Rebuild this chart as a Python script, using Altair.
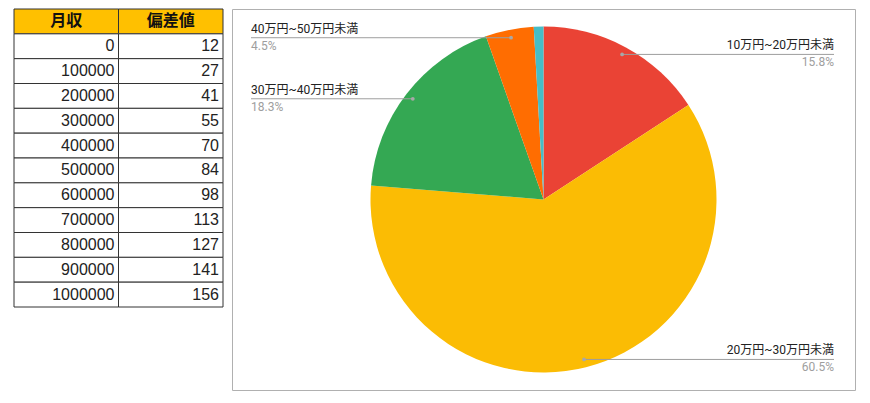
import altair as alt
import pandas as pd

# ---- data ----
headers = ["月収", "偏差値"]
incomes = [0, 100000, 200000, 300000, 400000, 500000, 600000, 700000, 800000, 900000, 1000000]
scores = [12, 27, 41, 55, 70, 84, 98, 113, 127, 141, 156]

categories = ["10万円~20万円未満", "20万円~30万円未満", "30万円~40万円未満", "40万円~50万円未満", "50万円以上"]
shares = [15.8, 60.5, 18.3, 4.5, 0.9]
colors = ["#EA4335", "#FBBC04", "#34A853", "#FF6D01", "#46BDC6"]

# ---- layout ----
TW, TH = 209, 298
PW, PH = 623, 381
CX, CY = PW / 2, PH / 2
R = 173
RD = 165
RIGHT_X = 602
LEFT_X = 19
TABLE_FONT = "Liberation Sans, Arial, 'Noto Sans CJK JP', sans-serif"
CHART_FONT = "Roboto, Arial, 'Noto Sans CJK JP', sans-serif"

# ---- table ----
cells = []
for c, h in enumerate(headers):
    cells.append(dict(col=c, row=0, text=h, header=True))
for r, (inc, sc) in enumerate(zip(incomes, scores), start=1):
    cells.append(dict(col=0, row=r, text=str(inc), header=False))
    cells.append(dict(col=1, row=r, text=str(sc), header=False))
tdf = pd.DataFrame(cells)
tdf["col2"] = tdf["col"] + 1
tdf["row2"] = tdf["row"] + 1
tdf["cmid"] = tdf["col"] + 0.5
tdf["rmid"] = tdf["row"] + 0.5

xs = alt.Scale(domain=[0, 2], nice=False, zero=False)
ys = alt.Scale(domain=[0, 12], nice=False, zero=False, reverse=True)

tbase = alt.Chart(tdf)
rects = tbase.mark_rect(stroke="#333333", strokeWidth=1).encode(
    x=alt.X("col:Q", scale=xs, axis=None),
    x2="col2:Q",
    y=alt.Y("row:Q", scale=ys, axis=None),
    y2="row2:Q",
    fill=alt.condition("datum.header", alt.value("#FFC000"), alt.value("#ffffff")),
)
htext = tbase.transform_filter("datum.header").mark_text(
    align="center", baseline="middle", fontSize=16, fontWeight="bold",
    font=TABLE_FONT, color="#111111"
).encode(
    x=alt.X("cmid:Q", scale=xs, axis=None),
    y=alt.Y("rmid:Q", scale=ys, axis=None),
    text="text:N",
)
btext = tbase.transform_filter("!datum.header").mark_text(
    align="right", baseline="middle", fontSize=16, dx=-4,
    font=TABLE_FONT, color="#222222"
).encode(
    x=alt.X("col2:Q", scale=xs, axis=None),
    y=alt.Y("rmid:Q", scale=ys, axis=None),
    text="text:N",
)
table = alt.layer(rects, htext, btext).properties(
    width=TW, height=TH, view=alt.ViewBackground(strokeOpacity=0)
)

# ---- pie ----
pdf = pd.DataFrame({"category": categories, "share": shares, "idx": list(range(len(categories)))})

arcs = alt.Chart(pdf).mark_arc(radius=R).encode(
    theta=alt.Theta("share:Q", stack=True),
    color=alt.Color("category:N", scale=alt.Scale(domain=categories, range=colors), legend=None),
    order=alt.Order("idx:Q"),
)

ann = (
    alt.Chart(pdf)
    .transform_window(cum="sum(share)", sort=[alt.SortField("idx")])
    .transform_joinaggregate(total="sum(share)")
    .transform_calculate(ang="2*PI*(datum.cum - datum.share/2)/datum.total")
    .transform_calculate(
        px=f"{CX} + {RD}*sin(datum.ang)",
        py=f"{CY} - {RD}*cos(datum.ang)",
        right="sin(datum.ang) > 0",
        lx=f"sin(datum.ang) > 0 ? {RIGHT_X} : {LEFT_X}",
        pct="format(datum.share, '.1f') + '%'",
    )
    .transform_filter("datum.share >= 2")
)

rules = ann.mark_rule(color="#9e9e9e", strokeWidth=1).encode(
    x=alt.X("px:Q", scale=None), x2="lx:Q", y=alt.Y("py:Q", scale=None)
)
dots = ann.mark_circle(size=14, color="#a8a8a8", opacity=1).encode(
    x=alt.X("px:Q", scale=None), y=alt.Y("py:Q", scale=None)
)

def labels(filt, align):
    b = ann.transform_filter(filt)
    name = b.mark_text(align=align, baseline="bottom", dy=-2, fontSize=12,
                       font=CHART_FONT, color="#222222").encode(
        x=alt.X("lx:Q", scale=None), y=alt.Y("py:Q", scale=None), text="category:N")
    pct = b.mark_text(align=align, baseline="top", dy=3, fontSize=12,
                      font=CHART_FONT, color="#9e9e9e").encode(
        x=alt.X("lx:Q", scale=None), y=alt.Y("py:Q", scale=None), text="pct:N")
    return [name, pct]

pie = alt.layer(arcs, rules, dots, *labels("datum.right", "right"), *labels("!datum.right", "left")).properties(
    width=PW, height=PH, view=alt.ViewBackground(stroke="#b0b0b0", strokeWidth=1)
)

chart = alt.hconcat(table, pie, spacing=7).properties(
    padding={"left": 5, "top": 0, "right": 0, "bottom": 0},
    background="#ffffff",
)

chart.save("out.html", embed_options={"renderer": "svg", "actions": False})
